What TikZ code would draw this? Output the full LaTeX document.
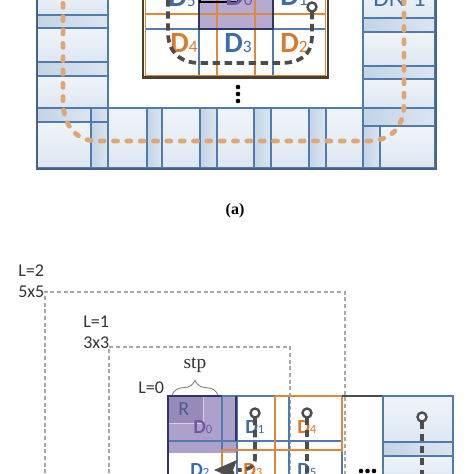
\documentclass[tikz,border=0pt]{standalone}
\usepackage{fontspec}
\setmainfont{Carlito}
\newfontfamily\seriffont{Liberation Serif}
\usetikzlibrary{decorations.pathreplacing,arrows.meta}
\definecolor{gblue}{HTML}{4F7CAC}
\definecolor{gorange}{HTML}{E0883A}
\definecolor{tblue}{HTML}{3D6DA6}
\definecolor{torange}{HTML}{DB7A2C}
\definecolor{tpurple}{HTML}{6E5A9E}
\definecolor{pfill}{HTML}{ADA1CC}
\definecolor{pdark}{HTML}{958AB9}
\definecolor{navy}{HTML}{2C3566}
\definecolor{framec}{HTML}{4A6282}
\definecolor{cellc}{HTML}{DDE7F2}
\definecolor{stripc}{HTML}{C3D4E7}
\definecolor{pathorange}{HTML}{E2A672}
\definecolor{pathgray}{HTML}{4D4D4D}
\definecolor{boxbrown}{HTML}{4E3D2C}
\definecolor{dashgray}{HTML}{A8A8A8}
\definecolor{txtgray}{HTML}{333333}
\tikzset{
  cell/.style={draw=gblue, line width=0.8pt, top color=white!55!cellc, bottom color=cellc},
  strip/.style={draw=gblue, line width=0.8pt, left color=stripc, right color=stripc!60!white},
  gline/.style={gblue, line width=1pt},
  oline/.style={gorange, line width=1.2pt},
  biglab/.style={font=\fontsize{22}{22}\selectfont\bfseries, inner sep=0pt, anchor=base west},
  smlab/.style={font=\fontsize{15}{15}\selectfont\bfseries, inner sep=0pt, anchor=base west},
  lvl/.style={font=\fontsize{13.5}{13.5}\selectfont, text=txtgray, inner sep=0pt, anchor=base west},
  darkdash/.style={pathgray, line width=2.8pt, dash pattern=on 5.5pt off 3.5pt},
  ordash/.style={pathorange, line width=3.6pt, line cap=round, dash pattern=on 3pt off 7pt},
  ring/.style={pathgray, line width=1.8pt, fill=white},
  lvlbox/.style={dashgray, line width=0.8pt, dash pattern=on 3pt off 2pt},
}
\newcommand{\bsub}[1]{{\fontsize{13}{13}\selectfont\mdseries #1}}
\newcommand{\ssub}[1]{{\fontsize{9.5}{9.5}\selectfont\mdseries #1}}
\begin{document}
\begin{tikzpicture}[x=0.75pt,y=-0.75pt]
\useasboundingbox (0,0) rectangle (474,474);
\clip (0,0) rectangle (474,474);
\fill[white] (0,0) rectangle (474,474);

% ---------- (a) top part ----------
% left column
\path[cell] (37,-10) rectangle (108,15);
\path[strip] (37,15) rectangle (108,28);
\path[cell] (37,28) rectangle (108,62);
\path[strip] (37,62) rectangle (108,76);
\path[cell] (37,76) rectangle (108,108);
\path[strip] (37,108) rectangle (91,122);
\path[cell] (37,122) rectangle (91,168);
% bottom row
\path[strip] (91,108) rectangle (108,168);
\path[cell] (108,108) rectangle (147,168);
\path[strip] (147,108) rectangle (162,168);
\path[cell] (162,108) rectangle (200,168);
\path[strip] (200,108) rectangle (217,168);
\path[cell] (217,108) rectangle (254,168);
\path[strip] (254,108) rectangle (271,168);
\path[cell] (271,108) rectangle (309,168);
\path[strip] (309,108) rectangle (326,168);
\path[cell] (326,108) rectangle (363,168);
% right column
\path[cell] (363,-10) rectangle (435,18);
\path[strip] (363,18) rectangle (435,32);
\path[cell] (363,32) rectangle (435,66);
\path[strip] (363,66) rectangle (435,79);
\path[cell] (363,79) rectangle (435,108);
\path[strip] (363,108) rectangle (435,126);
\path[strip] (363,126) rectangle (380,168);
\path[cell] (380,126) rectangle (435,168);
\draw[gline] (37,122) -- (108,122);
% frame
\draw[framec, line width=2.2pt] (37,-10) -- (37,169) -- (436,169) -- (436,-10);

% center box
\fill[white] (143,-10) rectangle (328,78);
\fill[pfill, opacity=0.9] (199,-10) rectangle (273,29);
\draw[gline] (145,29) -- (326,29);
\draw[gline] (199,-10) -- (199,77);
\draw[gline] (273,-10) -- (273,77);
\draw[oline] (145,14) -- (326,14);
\draw[oline] (217,-10) -- (217,77);
\draw[oline] (255,-10) -- (255,77);
\draw[oline] (145.5,-10) -- (145.5,76) -- (325.5,76) -- (325.5,-10);
\draw[navy, line width=1.2pt] (199,-10) -- (199,29) -- (273,29) -- (273,-10);
\draw[black, line width=1.1pt] (200,-10) rectangle (238,2);
\draw[boxbrown, line width=2pt] (143,-10) -- (143,77.5) -- (328,77.5) -- (328,-10);

% labels top
\node[biglab, text=tblue] (t5) at (168,7) {D\bsub{5}};
\node[biglab, text=tpurple] (t0) at (225,6) {D\bsub{0}};
\node[biglab, text=tblue] (t1) at (280,6) {D\bsub{1}};
\node[biglab, text=torange] (t4) at (170,53) {D\bsub{4}};
\node[biglab, text=tblue] (t3) at (224,53) {D\bsub{3}};
\node[biglab, text=torange] (t2) at (280,53) {D\bsub{2}};
\node[font=\fontsize{19}{19}\selectfont, text=tblue, inner sep=0pt, anchor=base west] (tn) at (373,7) {DN-1};

% dark dashed scan path
\draw[darkdash] (312,12) -- (312,35) .. controls (312,56) and (300,63) .. (280,63) -- (200,63) .. controls (180,63) and (168,52) .. (168,32) -- (168,-10);
\draw[ring] (312,7) circle[radius=4.5];

% vertical dots
\fill[black] (238,87) circle[radius=2.3];
\fill[black] (238,94) circle[radius=2.3];
\fill[black] (238,101) circle[radius=2.3];

% orange path
\draw[ordash] (63,-10) -- (63,100) .. controls (63,128) and (78,141) .. (97,141) -- (368,141) .. controls (390,141) and (404,128) .. (404,104) -- (404,-10);

\node[font=\seriffont\fontsize{12}{12}\selectfont\bfseries, inner sep=0pt] (cap) at (235,211) {(a)};

% ---------- bottom part ----------
\draw[lvlbox] (45,480) -- (45,292) -- (345,292) -- (345,480);
\draw[lvlbox] (109,480) -- (109,347) -- (290,347) -- (290,480);
\node[lvl] (l2) at (18,276) {L=2};
\node[lvl] (s2) at (18,297) {5x5};
\node[lvl] (l1) at (83,327) {L=1};
\node[lvl] (s1) at (83,348) {3x3};
\node[lvl] (l0) at (138,393) {L=0};
\draw[dashgray!70!black, line width=0.6pt, decorate, decoration={brace, amplitude=11pt}] (172,395) -- (218,395);
\node[font=\seriffont\fontsize{14.5}{14.5}\selectfont, text=txtgray, inner sep=0pt, anchor=base] (stp) at (195,368) {stp};

% D0 window
\fill[pfill] (168,396) rectangle (236,453);
\fill[pdark] (168,396) rectangle (203,423);
\draw[white!60!pdark, line width=0.6pt] (203,396) -- (203,423) -- (168,423);
% blue grid lines
\draw[gline] (222,396) -- (222,450);
\draw[gline] (168,441) -- (342,441);
\draw[gline] (237,396) -- (237,480);
\draw[gline] (289,396) -- (289,480);
\draw[gline] (342,452) -- (342,480);
\draw[gline] (222,396) -- (289,396);
% orange grid lines
\draw[oline] (222,450) -- (342,450);
\draw[oline] (222,450) -- (222,480);
\draw[oline] (275,396) -- (275,480);
\draw[oline] (342,396) -- (342,452);
\draw[oline] (275,396) -- (342,396);
% D0 border
\draw[navy, line width=1.3pt] (168,480) -- (168,396) -- (222,396);
\draw[navy, line width=1pt] (236,396) -- (236,441);
\draw[pathgray, line width=1.3pt] (342,396) -- (383,396);
% right stack
\path[cell] (383,396) rectangle (453,442);
\path[strip] (383,442) rectangle (453,456);
\path[cell] (383,456) rectangle (453,480);

% labels bottom
\node[font=\fontsize{15}{15}\selectfont, text=navy!80!white, inner sep=0pt, anchor=base west] (r) at (178,415) {R};
\node[smlab, text=tpurple] (b0) at (193,433) {D\ssub{0}};
\node[smlab, text=tblue] (b1) at (245,433) {D\ssub{1}};
\node[smlab, text=torange] (b4) at (297,433) {D\ssub{4}};
\node[smlab, text=tblue] (b2) at (190,476) {D\ssub{2}};
\node[smlab, text=torange] (b3) at (243,476) {D\ssub{3}};
\node[smlab, text=tblue] (b5) at (297,476) {D\ssub{5}};

% dashed scan lines bottom
\draw[darkdash] (255,418) -- (255,458) .. controls (255,466) and (250,470) .. (238,470);
\fill[pathgray] (214,470) -- (237,460) -- (233,470) -- (237,480) -- cycle;
\draw[darkdash] (307,418) -- (307,480);
\draw[darkdash] (422,422) -- (422,480);
\draw[ring] (255,413) circle[radius=4.5];
\draw[ring] (307,413) circle[radius=4.5];
\draw[ring] (422,417) circle[radius=4.5];

% horizontal dots
\fill[black] (361,471) circle[radius=2.3];
\fill[black] (367.5,471) circle[radius=2.3];
\fill[black] (374,471) circle[radius=2.3];
\end{tikzpicture}
\end{document}
